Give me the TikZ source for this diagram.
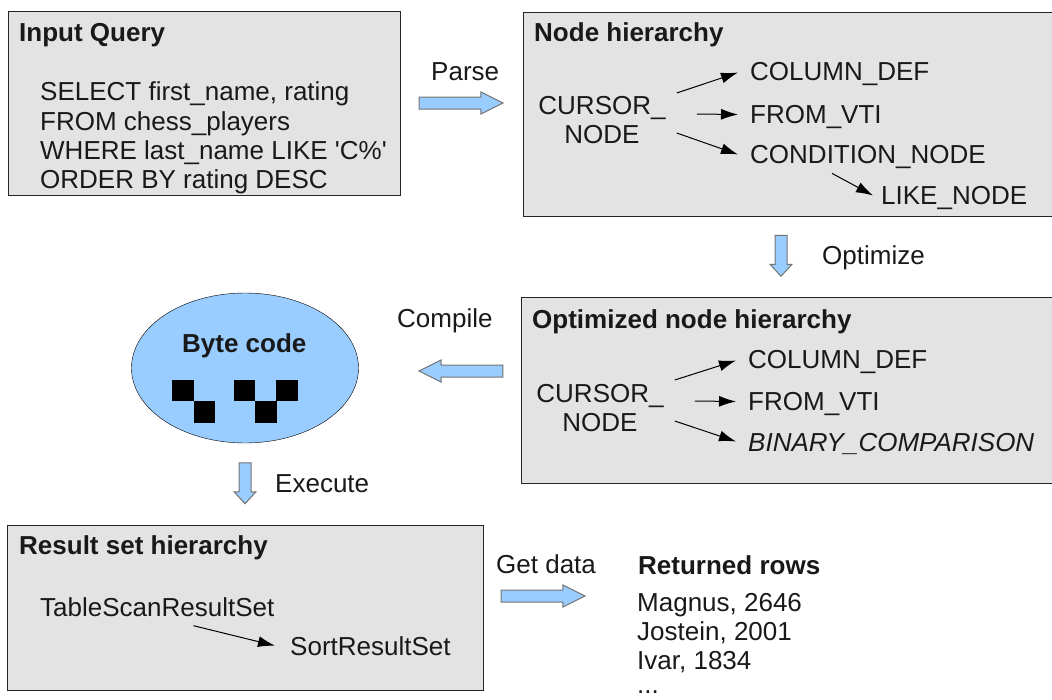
\documentclass[tikz,border=0pt]{standalone}
\usepackage{fontspec}
\setmainfont{Liberation Sans}
\newfontfamily\plainfont{Liberation Sans}
\usetikzlibrary{shapes.arrows,shapes.geometric,arrows.meta}
\definecolor{skyfill}{RGB}{153,204,255}
\tikzset{
  panel/.style={draw=black!85,fill=black!11,line width=1pt,anchor=north west,inner sep=0pt},
  txt/.style={inner sep=0pt,anchor=base west,font=\fontsize{26}{29}\selectfont,text=black!90},
  head/.style={txt,font=\fontsize{26}{29}\selectfont\bfseries},
  tree/.style={inner sep=0pt,align=center,font=\fontsize{26}{29}\selectfont,text=black!90},
  blockarrow/.style={single arrow,draw=black!55,fill=skyfill,line width=1pt,inner xsep=0pt,inner ysep=5.5pt,
    single arrow head extend=5pt,minimum height=84pt,minimum width=21pt,single arrow tip angle=53},
  shortarrow/.style={blockarrow,minimum height=41pt,single arrow tip angle=85},
  link/.style={-{Latex[length=17pt,width=11pt]},line width=1pt},
  bit/.style={fill=black,minimum size=21.5pt,inner sep=0pt}
}
\begin{document}
\begin{tikzpicture}[x=1pt,y=-1pt]
  \useasboundingbox (0,0) rectangle (1052,699);

  % boxes
  \node[panel,minimum width=392pt,minimum height=184pt] (query) at (8,11) {};
  \node[panel,minimum width=529pt,minimum height=204pt] (hier) at (523,12) {};
  \node[panel,minimum width=531pt,minimum height=186pt] (opt) at (521,297) {};
  \node[panel,minimum width=476pt,minimum height=165pt] (result) at (7,525) {};
  \node[draw=black,fill=skyfill,ellipse,minimum width=227pt,minimum height=150pt,inner sep=0pt] (byte) at (245,368) {};

  % input query
  \node[head] (queryhead) at (19,41) {Input Query};
  \node[txt] (q1) at (40,100) {SELECT first\_name, rating};
  \node[txt] (q2) at (40,130) {FROM chess\_players};
  \node[txt] (q3) at (40,159) {\plainfont WHERE last\_name LIKE 'C\%'};
  \node[txt] (q4) at (40,188) {ORDER BY rating DESC};

  % node hierarchy
  \node[head] (hierhead) at (534,41) {Node hierarchy};
  \node[tree] (cursor) at (602,120) {CURSOR\_\\NODE};
  \node[txt] (col) at (750,80) {COLUMN\_DEF};
  \node[txt] (from) at (750,123) {FROM\_VTI};
  \node[txt] (cond) at (750,163) {CONDITION\_NODE};
  \node[txt] (like) at (881,204) {LIKE\_NODE};
  \draw[link] ([shift={(11,-27)}]cursor.east) -- ([shift={(-12,-1)}]col.west);
  \draw[link] ([shift={(31,-6)}]cursor.east) -- ([shift={(-12,-2)}]from.west);
  \draw[link] ([shift={(11,13)}]cursor.east) -- ([shift={(-12,-2)}]cond.west);
  \draw[link] ([shift={(82,5)}]cond.south west) -- ([shift={(-8,-2)}]like.west);

  % optimized
  \node[head] (opthead) at (532,328) {Optimized node hierarchy};
  \node[tree] (cursoropt) at (600,408) {CURSOR\_\\NODE};
  \node[txt] (colopt) at (748,368) {COLUMN\_DEF};
  \node[txt] (fromopt) at (748,410) {FROM\_VTI};
  \node[txt] (binopt) at (748,451) {\itshape BINARY\_COMPARISON};
  \draw[link] ([shift={(11,-28)}]cursoropt.east) -- ([shift={(-12,-1)}]colopt.west);
  \draw[link] ([shift={(31,-7)}]cursoropt.east) -- ([shift={(-12,-2)}]fromopt.west);
  \draw[link] ([shift={(11,13)}]cursoropt.east) -- ([shift={(-12,-2)}]binopt.west);

  % byte code
  \node[head] (bytehead) at (182,352) {Byte code};
  \foreach \name/\x/\y in {a/183/390.5,b/204.5/412,c/244.5/390.5,d/266/412,e/287/390.5}
    \node[bit] (bit\name) at (\x,\y) {};

  % result set
  \node[head] (resulthead) at (19,554) {Result set hierarchy};
  \node[txt] (scan) at (40,616) {TableScanResultSet};
  \node[txt] (sort) at (290,655) {SortResultSet};
  \draw[link] ([shift={(-81,19)}]scan.east) -- ([shift={(-15,0)}]sort.west);

  % rows
  \node[head] (rowshead) at (638,574) {Returned rows};
  \node[txt] (r1) at (637,611) {Magnus, 2646};
  \node[txt] (r2) at (637,640) {Jostein, 2001};
  \node[txt] (r3) at (637,669) {Ivar, 1834};
  \node[txt] (r4) at (637,693) {...};

  % steps
  \node[txt] (parse) at (431,80) {Parse};
  \node[blockarrow] (parsearrow) at (455,103) {};
  \node[txt] (optimize) at (822,264) {Optimize};
  \node[shortarrow,rotate=-90] (optarrow) at (781,252.5) {};
  \node[txt] (compile) at (397,327) {Compile};
  \node[blockarrow,rotate=180] (comparrow) at (467,371) {};
  \node[txt] (execute) at (275,492) {Execute};
  \node[shortarrow,rotate=-90] (execarrow) at (245,480) {};
  \node[txt] (getdata) at (496,573) {Get data};
  \node[blockarrow] (dataarrow) at (537,596) {};
\end{tikzpicture}
\end{document}
